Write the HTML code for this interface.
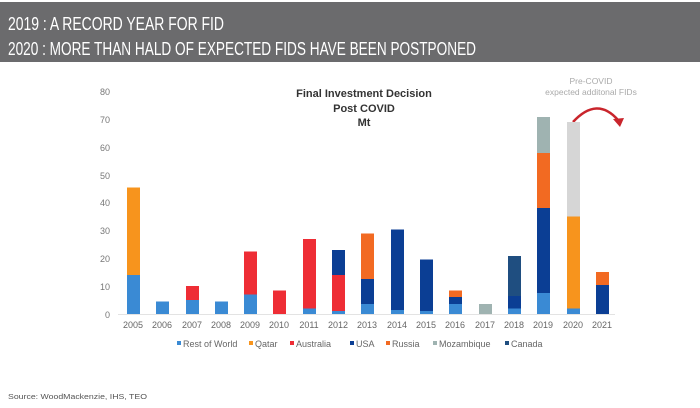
<!DOCTYPE html>
<html><head><meta charset="utf-8"><style>
html,body{margin:0;padding:0;background:#fff;}
svg{display:block;font-family:"Liberation Sans",sans-serif;}
</style></head><body>
<svg width="700" height="408" viewBox="0 0 700 408" xmlns="http://www.w3.org/2000/svg">
<rect x="0" y="0" width="700" height="408" fill="#fff"/>
<rect x="0" y="2" width="700" height="60" fill="#6b6b6d"/>
<text x="8" y="30" font-size="18" fill="#fff" textLength="216" lengthAdjust="spacingAndGlyphs">2019 : A RECORD YEAR FOR FID</text>
<text x="8" y="55" font-size="18" fill="#fff" textLength="468" lengthAdjust="spacingAndGlyphs">2020 : MORE THAN HALD OF EXPECTED FIDS HAVE BEEN POSTPONED</text>

<g font-size="9" fill="#777" text-anchor="end">
<text x="110" y="95">80</text><text x="110" y="123">70</text><text x="110" y="151">60</text>
<text x="110" y="179">50</text><text x="110" y="206">40</text><text x="110" y="234">30</text>
<text x="110" y="262">20</text><text x="110" y="290">10</text><text x="110" y="318">0</text>
</g>
<line x1="118" y1="314.5" x2="615" y2="314.5" stroke="#e3e3e3"/>

<g font-size="11" font-weight="bold" fill="#333" text-anchor="middle">
<text x="364" y="97">Final Investment Decision</text>
<text x="364" y="112">Post COVID</text>
<text x="364" y="126">Mt</text>
</g>
<g font-size="8.5" fill="#aaa" text-anchor="middle">
<text x="591" y="84">Pre-COVID</text>
<text x="591" y="95">expected additonal FIDs</text>
</g>
<path d="M573 122 Q597 96 618 120" fill="none" stroke="#c9252c" stroke-width="2.5"/>
<polygon points="613,119 624,118 620,127" fill="#c9252c"/>

<g>
<!-- 2005 -->
<rect x="127" y="275" width="13" height="39" fill="#3a8ad4"/>
<rect x="127" y="187.5" width="13" height="87.5" fill="#f7941d"/>
<!-- 2006 -->
<rect x="156" y="301.5" width="13" height="12.5" fill="#3a8ad4"/>
<!-- 2007 -->
<rect x="186" y="300" width="13" height="14" fill="#3a8ad4"/>
<rect x="186" y="286" width="13" height="14" fill="#ee2d35"/>
<!-- 2008 -->
<rect x="215" y="301.5" width="13" height="12.5" fill="#3a8ad4"/>
<!-- 2009 -->
<rect x="244" y="294.5" width="13" height="19.5" fill="#3a8ad4"/>
<rect x="244" y="251.5" width="13" height="43" fill="#ee2d35"/>
<!-- 2010 -->
<rect x="273" y="290.5" width="13" height="23.5" fill="#ee2d35"/>
<!-- 2011 -->
<rect x="303" y="308.5" width="13" height="5.5" fill="#3a8ad4"/>
<rect x="303" y="239" width="13" height="69.5" fill="#ee2d35"/>
<!-- 2012 -->
<rect x="332" y="311" width="13" height="3" fill="#3a8ad4"/>
<rect x="332" y="275" width="13" height="36" fill="#ee2d35"/>
<rect x="332" y="250" width="13" height="25" fill="#0b3e94"/>
<!-- 2013 -->
<rect x="361" y="304" width="13" height="10" fill="#3a8ad4"/>
<rect x="361" y="279" width="13" height="25" fill="#0b3e94"/>
<rect x="361" y="233.5" width="13" height="45.5" fill="#f26a22"/>
<!-- 2014 -->
<rect x="391" y="310" width="13" height="4" fill="#3a8ad4"/>
<rect x="391" y="229.5" width="13" height="80.5" fill="#0b3e94"/>
<!-- 2015 -->
<rect x="420" y="311" width="13" height="3" fill="#3a8ad4"/>
<rect x="420" y="259.5" width="13" height="51.5" fill="#0b3e94"/>
<!-- 2016 -->
<rect x="449" y="304" width="13" height="10" fill="#3a8ad4"/>
<rect x="449" y="297" width="13" height="7" fill="#0b3e94"/>
<rect x="449" y="290.5" width="13" height="6.5" fill="#f26a22"/>
<!-- 2017 -->
<rect x="479" y="304" width="13" height="10" fill="#9fb3b1"/>
<!-- 2018 -->
<rect x="508" y="308.5" width="13" height="5.5" fill="#3a8ad4"/>
<rect x="508" y="296" width="13" height="12.5" fill="#0b3e94"/>
<rect x="508" y="256" width="13" height="40" fill="#1f4e80"/>
<!-- 2019 -->
<rect x="537" y="293" width="13" height="21" fill="#3a8ad4"/>
<rect x="537" y="208" width="13" height="85" fill="#0b3e94"/>
<rect x="537" y="153" width="13" height="55" fill="#f26a22"/>
<rect x="537" y="117" width="13" height="36" fill="#9fb3b1"/>
<!-- 2020 -->
<rect x="567" y="308.5" width="13" height="5.5" fill="#3a8ad4"/>
<rect x="567" y="216.5" width="13" height="92" fill="#f7941d"/>
<rect x="567" y="122" width="13" height="94.5" fill="#d6d6d6"/>
<!-- 2021 -->
<rect x="596" y="285" width="13" height="29" fill="#0b3e94"/>
<rect x="596" y="272" width="13" height="13" fill="#f26a22"/>
</g>

<g font-size="9" fill="#666" text-anchor="middle">
<text x="133" y="328">2005</text><text x="162" y="328">2006</text><text x="192" y="328">2007</text>
<text x="221" y="328">2008</text><text x="250" y="328">2009</text><text x="279" y="328">2010</text>
<text x="309" y="328">2011</text><text x="338" y="328">2012</text><text x="367" y="328">2013</text>
<text x="397" y="328">2014</text><text x="426" y="328">2015</text><text x="455" y="328">2016</text>
<text x="485" y="328">2017</text><text x="514" y="328">2018</text><text x="543" y="328">2019</text>
<text x="573" y="328">2020</text><text x="602" y="328">2021</text>
</g>

<g font-size="9" fill="#666">
<rect x="177" y="341" width="4" height="4" fill="#3a8ad4"/><text x="183" y="347">Rest of World</text>
<rect x="249" y="341" width="4" height="4" fill="#f7941d"/><text x="255" y="347">Qatar</text>
<rect x="290" y="341" width="4" height="4" fill="#ee2d35"/><text x="296" y="347">Australia</text>
<rect x="350" y="341" width="4" height="4" fill="#0b3e94"/><text x="356" y="347">USA</text>
<rect x="386" y="341" width="4" height="4" fill="#f26a22"/><text x="392" y="347">Russia</text>
<rect x="433" y="341" width="4" height="4" fill="#9fb3b1"/><text x="439" y="347">Mozambique</text>
<rect x="505" y="341" width="4" height="4" fill="#1f4e80"/><text x="511" y="347">Canada</text>
</g>

<text x="8" y="399" font-size="7.5" fill="#555" textLength="139" lengthAdjust="spacingAndGlyphs">Source: WoodMackenzie, IHS, TEO</text>
</svg>
</body></html>
